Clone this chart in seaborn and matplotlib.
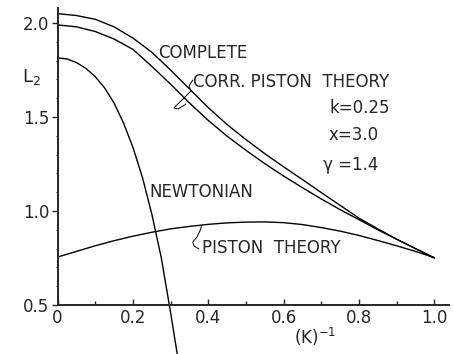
import numpy as np
import matplotlib
matplotlib.use("Agg")
import matplotlib.pyplot as plt
import seaborn as sns

# Reduced frequency (K)^-1 sampling and L2 values for each theory
x_grid = [0.0, 0.05, 0.10, 0.15, 0.20, 0.25, 0.30, 0.35, 0.40, 0.45, 0.50,
          0.55, 0.60, 0.65, 0.70, 0.75, 0.80, 0.85, 0.90, 0.95, 1.00]
complete = [2.05, 2.04, 2.02, 1.98, 1.92, 1.845, 1.75, 1.65, 1.55, 1.46, 1.38,
            1.305, 1.235, 1.167, 1.098, 1.03, 0.962, 0.905, 0.85, 0.80, 0.75]
corr_piston = [1.99, 1.98, 1.955, 1.915, 1.86, 1.77, 1.675, 1.575, 1.482, 1.398, 1.323,
               1.252, 1.186, 1.124, 1.064, 1.007, 0.954, 0.90, 0.85, 0.80, 0.75]
piston = [0.755, 0.785, 0.815, 0.842, 0.866, 0.887, 0.905, 0.918, 0.929, 0.937, 0.941,
          0.942, 0.938, 0.928, 0.912, 0.893, 0.87, 0.843, 0.815, 0.785, 0.752]

x_newton = [0.0, 0.025, 0.05, 0.075, 0.10, 0.125, 0.15, 0.175, 0.20, 0.225,
            0.25, 0.275, 0.30, 0.32]
newtonian = [1.815, 1.809, 1.79, 1.759, 1.715, 1.655, 1.574, 1.469, 1.339, 1.181,
             0.985, 0.755, 0.46, 0.21]

x_ticks = [0.0, 0.2, 0.4, 0.6, 0.8, 1.0]
x_ticklabels = ["0", "0.2", "0.4", "0.6", "0.8", "1.0"]
y_ticks = [0.5, 1.0, 1.5, 2.0]
y_ticklabels = ["0.5", "1.0", "1.5", "2.0"]

sns.set_style("ticks")
plt.rcParams["font.family"] = ["DejaVu Sans"]

fig = plt.figure(figsize=(4.54, 3.54), dpi=100)
ax = fig.add_axes([0.1267, 0.1384, 0.8633, 0.8390])

lw = 1.0
sns.lineplot(x=x_grid, y=complete, ax=ax, color="black", lw=lw)
sns.lineplot(x=x_grid, y=corr_piston, ax=ax, color="black", lw=lw)
sns.lineplot(x=x_grid, y=piston, ax=ax, color="black", lw=lw)
sns.lineplot(x=x_newton, y=newtonian, ax=ax, color="black", lw=lw, clip_on=False)

ax.set_xlim(0, 1.04)
ax.set_ylim(0.5, 2.08)

sns.despine(ax=ax)
for side in ("left", "bottom"):
    ax.spines[side].set_linewidth(1.4)

ax.set_xticks(x_ticks)
ax.set_xticklabels(x_ticklabels)
ax.set_xticks(np.arange(0.1, 1.0, 0.2), minor=True)
ax.set_yticks(y_ticks)
ax.set_yticklabels(y_ticklabels)
ax.set_yticks(np.arange(0.6, 2.05, 0.1), minor=True)
ax.tick_params(axis="x", which="major", direction="in", length=4, width=1, labelsize=12, pad=3)
ax.tick_params(axis="x", which="minor", direction="in", length=3, width=1)
ax.tick_params(axis="y", which="major", direction="out", length=4, width=1, labelsize=12, pad=2)
ax.tick_params(axis="y", which="minor", direction="out", length=1.5, width=0.8)

fs = 12
ax.text(0.268, 1.84, "COMPLETE", fontsize=fs, ha="left", va="center")
ax.text(0.359, 1.686, "CORR. PISTON  THEORY", fontsize=fs, ha="left", va="center")
ax.text(0.723, 1.548, "k=0.25", fontsize=fs, ha="left", va="center")
ax.text(0.720, 1.404, "x=3.0", fontsize=fs, ha="left", va="center")
ax.text(0.704, 1.245, "γ =1.4", fontsize=fs, ha="left", va="center")
ax.text(0.245, 1.101, "NEWTONIAN", fontsize=fs, ha="left", va="center")
ax.text(0.383, 0.803, "PISTON  THEORY", fontsize=fs, ha="left", va="center")

ax.text(-0.094, 1.713, r"L$_\mathregular{2}$", fontsize=13, ha="left", va="center")
ax.text(0.683, 0.33, r"(K)$^\mathregular{-1}$", fontsize=12, ha="center", va="center",
        clip_on=False)

# hand-drawn leader strokes tying the labels to their curves
corr_leader_x = [0.359, 0.349, 0.354, 0.338, 0.314, 0.309, 0.320, 0.341]
corr_leader_y = [1.697, 1.665, 1.638, 1.606, 1.559, 1.548, 1.543, 1.569]
ax.plot(corr_leader_x, corr_leader_y, color="black", lw=0.7)
piston_leader_x = [0.383, 0.378, 0.370, 0.359, 0.362, 0.375]
piston_leader_y = [0.926, 0.894, 0.862, 0.835, 0.814, 0.798]
ax.plot(piston_leader_x, piston_leader_y, color="black", lw=0.7)

fig.savefig("out.png", dpi=100)
